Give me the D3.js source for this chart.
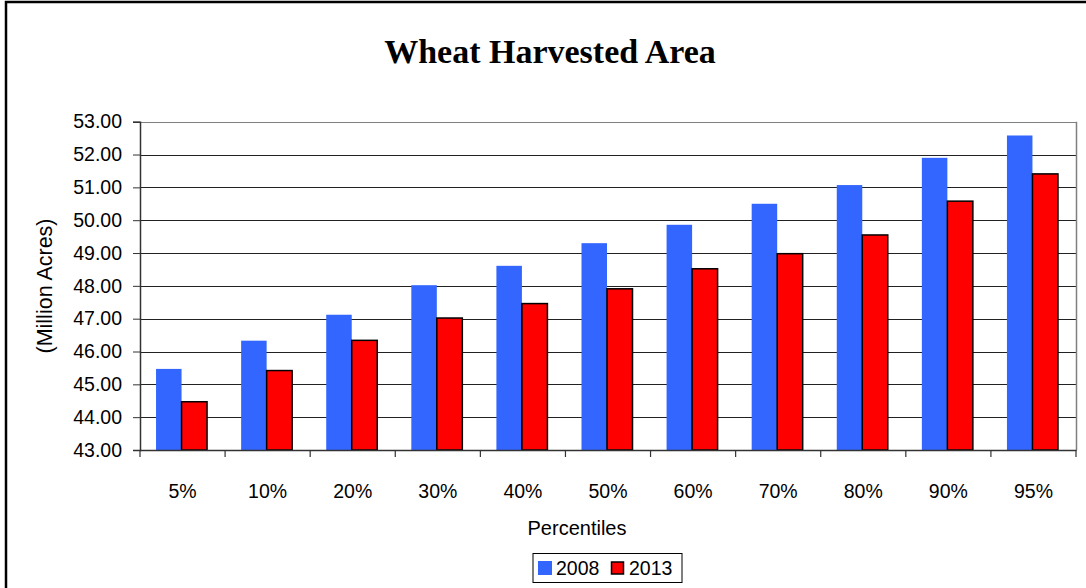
<!DOCTYPE html>
<html><head><meta charset="utf-8">
<script src="https://cdn.jsdelivr.net/npm/d3@7"></script>
<style>html,body{margin:0;padding:0;background:#fff;}svg{display:block;}</style>
</head><body>
<svg id="c" width="1086" height="588"></svg>
<script>
const categories = ["5%","10%","20%","30%","40%","50%","60%","70%","80%","90%","95%"];
const series = ["2008","2013"];
const values2008 = [45.47, 46.33, 47.12, 48.02, 48.61, 49.30, 49.86, 50.50, 51.07, 51.90, 52.58];
const values2013 = [44.47, 45.42, 46.34, 47.02, 47.46, 47.91, 48.52, 48.98, 49.55, 50.58, 51.41];
const yTicks = [43,44,45,46,47,48,49,50,51,52,53];
const colors = {"2008":"#3366FF","2013":"#FF0000"};

const svg = d3.select("#c");
const L = 140, R = 1076, T = 121.7, B = 450;

// outer frame
svg.append("rect").attr("x",6).attr("y",2).attr("width",1200).attr("height",700)
  .attr("fill","none").attr("stroke","#000").attr("stroke-width",2.5);

const x0 = d3.scaleBand().domain(categories).range([L,R]).paddingInner(0).paddingOuter(0);
const x1 = d3.scaleBand().domain(series).range([0,x0.bandwidth()]).paddingInner(0).paddingOuter(0.668);
const y = d3.scaleLinear().domain([43,53]).range([B,T]);

// gridlines
svg.append("g").selectAll("line").data(yTicks.slice(1)).join("line")
  .attr("x1",L).attr("x2",R)
  .attr("y1",d=>Math.round(y(d))+0.5).attr("y2",d=>Math.round(y(d))+0.5)
  .attr("stroke",(d)=>d===53?"#808080":"#222").attr("stroke-width",1);
// right border
svg.append("line").attr("x1",R+0.5).attr("x2",R+0.5).attr("y1",y(53)).attr("y2",B)
  .attr("stroke","#808080").attr("stroke-width",1.5);

const data = categories.map((c,i)=>({cat:c, vals:[{s:"2008",v:values2008[i]},{s:"2013",v:values2013[i]}]}));

const groups = svg.append("g").selectAll("g").data(data).join("g")
  .attr("transform",d=>`translate(${x0(d.cat)-1},0)`);
groups.selectAll("rect").data(d=>d.vals).join("rect")
  .attr("x",d=>x1(d.s))
  .attr("y",d=>y(d.v))
  .attr("width",x1.bandwidth())
  .attr("height",d=>B-y(d.v))
  .attr("fill",d=>colors[d.s])
  .attr("stroke",d=>d.s==="2013"?"#000":"none")
  .attr("stroke-width",1.5);

// y axis
const yAxis = d3.axisLeft(y).tickValues(yTicks).tickFormat(d3.format(".2f")).tickSize(7).tickPadding(11);
const gy = svg.append("g").attr("transform",`translate(${L},0)`).call(yAxis);
gy.select(".domain").attr("stroke","#333").attr("stroke-width",1.5);
gy.selectAll(".tick line").attr("stroke","#333");
gy.selectAll("text").attr("font-family","Arial, 'Liberation Sans', sans-serif").attr("font-size",19.5).attr("fill","#000");

// x axis
const xAxis = d3.axisBottom(x0).tickSize(0).tickPadding(0).tickFormat(d=>d);
const gx = svg.append("g").attr("transform",`translate(0,${B})`).call(xAxis);
gx.select(".domain").attr("stroke","#333").attr("stroke-width",1.5);
gx.selectAll("text").attr("font-family","Arial, 'Liberation Sans', sans-serif").attr("font-size",19.5)
  .attr("fill","#000").attr("dy",null).attr("y",48);
// category boundary ticks
svg.append("g").selectAll("line").data(d3.range(categories.length+1)).join("line")
  .attr("x1",i=>L+i*x0.step()).attr("x2",i=>L+i*x0.step())
  .attr("y1",B).attr("y2",B+7).attr("stroke","#333").attr("stroke-width",1.2);

// titles
svg.append("text").attr("x",550).attr("y",63).attr("text-anchor","middle")
  .attr("font-family","'Liberation Serif','Times New Roman',serif").attr("font-weight","bold")
  .attr("font-size",34).text("Wheat Harvested Area");
svg.append("text").attr("x",577).attr("y",535).attr("text-anchor","middle")
  .attr("font-family","Arial, 'Liberation Sans', sans-serif").attr("font-size",20).text("Percentiles");
svg.append("text").attr("transform","translate(52,286) rotate(-90)").attr("text-anchor","middle")
  .attr("font-family","Arial, 'Liberation Sans', sans-serif").attr("font-size",21.5).text("(Million Acres)");

// legend
const lg = svg.append("g");
lg.append("rect").attr("x",533).attr("y",553.5).attr("width",149).attr("height",29)
  .attr("fill","#fff").attr("stroke","#000").attr("stroke-width",1);
const lx = [538, 611];
series.forEach((s,i)=>{
  lg.append("rect").attr("x",lx[i]).attr("y",561).attr("width",s==="2013"?12:14).attr("height",s==="2013"?12:14)
    .attr("transform", s==="2013"?"translate(0.5,1)":null)
    .attr("fill",colors[s]).attr("stroke",s==="2013"?"#000":"none").attr("stroke-width",1.5);
  lg.append("text").attr("x",lx[i]+18).attr("y",575).attr("font-family","Arial, 'Liberation Sans', sans-serif")
    .attr("font-size",19.5).text(s);
});
</script>
</body></html>
